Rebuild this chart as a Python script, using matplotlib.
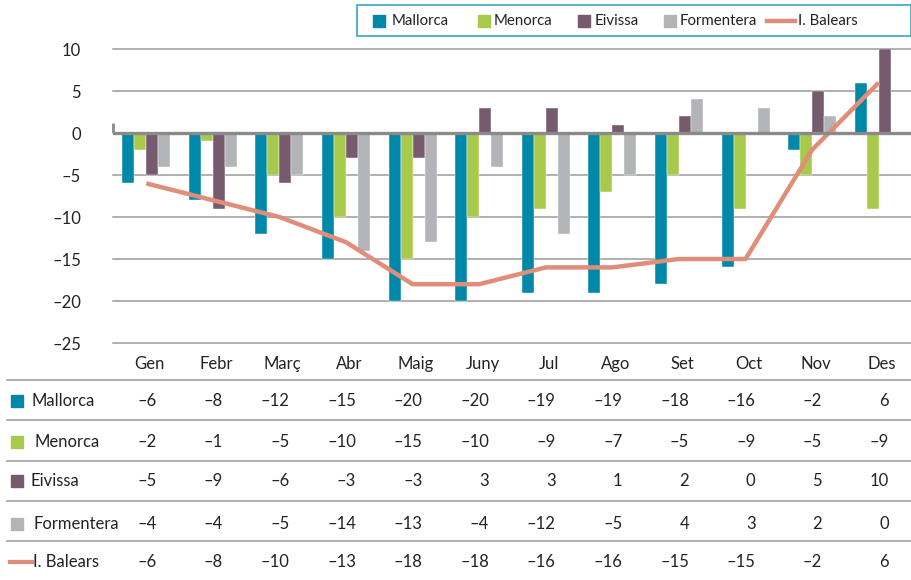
import matplotlib
matplotlib.use("Agg")
import matplotlib.pyplot as plt
import matplotlib.transforms as mtransforms
from matplotlib.patches import Rectangle
from matplotlib.lines import Line2D
import numpy as np

plt.rcParams['font.family'] = ['Lato', 'DejaVu Sans']

months = ["Gen", "Febr", "Març", "Abr", "Maig", "Juny", "Jul", "Ago", "Set", "Oct", "Nov", "Des"]
mallorca = [-6, -8, -12, -15, -20, -20, -19, -19, -18, -16, -2, 6]
menorca = [-2, -1, -5, -10, -15, -10, -9, -7, -5, -9, -5, -9]
eivissa = [-5, -9, -6, -3, -3, 3, 3, 1, 2, 0, 5, 10]
formentera = [-4, -4, -5, -14, -13, -4, -12, -5, 4, 3, 2, 0]
balears = [-6, -8, -10, -13, -18, -18, -16, -16, -15, -15, -2, 6]

series_names = ["Mallorca", "Menorca", "Eivissa", "Formentera"]
series_vals = [mallorca, menorca, eivissa, formentera]
colors = ["#0088A8", "#A8CA4C", "#765B6F", "#B3B4B7"]
line_color = "#E08D79"
line_name = "I. Balears"
yticks = [10, 5, 0, -5, -10, -15, -20, -25]

W, H = 912, 580
fig = plt.figure(figsize=(W / 100, H / 100), dpi=100)
ax_l, ax_r, ax_t, ax_b = 113, 912, 49, 343
ax = fig.add_axes([ax_l / W, 1 - ax_b / H, (ax_r - ax_l) / W, (ax_b - ax_t) / H])

n = len(months)
x = np.arange(n)
bw = 0.18
for i, (name, vals, c) in enumerate(zip(series_names, series_vals, colors)):
    ax.bar(x + (i - 1.5) * bw, vals, width=bw, color=c, zorder=3,
           edgecolor="white", linewidth=0.3)

ax.plot(x, balears, color=line_color, lw=3.2, zorder=4, solid_capstyle="butt")

ax.set_xlim(-0.5, n - 0.5)
ax.set_ylim(-25, 10)
ax.set_yticks(yticks)
ax.set_yticklabels([str(v).replace("-", "–") for v in yticks], fontsize=12, color="#222222")
ax.tick_params(axis="y", length=0, pad=23)
ax.set_xticks([])
for s in ax.spines.values():
    s.set_visible(False)
for v in yticks:
    if v != 0:
        ax.axhline(v, color="#9A9A9A", lw=1.1, zorder=1, clip_on=False)
ax.axhline(0, color="#8A8A8A", lw=2.4, zorder=5)
ax.plot([-0.5, -0.5], [0, 1.2], color="#8A8A8A", lw=2.0, zorder=5, clip_on=False,
        solid_capstyle="butt")

# Table
trans = mtransforms.blended_transform_factory(ax.transData, fig.transFigure)
def fy(py):
    return 1 - py / H

for i, m in enumerate(months):
    ax.text(i + 0.05, fy(364), m, transform=trans, ha="center", va="center",
            fontsize=12, color="#222222")

row_y = [401, 442, 481, 524, 562]
line_y = [380, 420, 461, 501, 541]
for ly in line_y:
    fig.add_artist(Line2D([7 / W, 912 / W], [fy(ly), fy(ly)], color="#A0A0A0", lw=1.2))

all_rows = series_vals + [balears]
all_names = series_names + [line_name]
label_x = [32, 35, 31, 34, 33]
for r, (name, vals) in enumerate(zip(all_names, all_rows)):
    yy = fy(row_y[r])
    if r < 4:
        fig.add_artist(Rectangle((11 / W, yy - 6 / H), 12 / W, 12 / H,
                                 transform=fig.transFigure, color=colors[r]))
    else:
        fig.add_artist(Line2D([10 / W, 32 / W], [yy, yy], color=line_color, lw=3))
    fig.text(label_x[r] / W, yy, name, ha="left", va="center", fontsize=12, color="#222222")
    for i, v in enumerate(vals):
        ax.text(i + 0.15, yy, str(v).replace("-", "–"), transform=trans,
                ha="right", va="center", fontsize=12, color="#222222")

# Legend (drawn manually to match layout)
fig.add_artist(Rectangle((357 / W, fy(36)), (911 - 357) / W, 31 / H,
                         transform=fig.transFigure, facecolor="white",
                         edgecolor="#5DB3C8", lw=1.5))
ly_c = fy(21)
sq_x = [373, 478, 578, 664]
tx_x = [392, 494, 595, 680]
for r in range(4):
    fig.add_artist(Rectangle((sq_x[r] / W, ly_c - 6 / H), 12 / W, 12 / H,
                             transform=fig.transFigure, color=colors[r]))
    fig.text(tx_x[r] / W, ly_c, series_names[r], ha="left", va="center",
             fontsize=10.8, color="#222222")
fig.add_artist(Line2D([767 / W, 795 / W], [ly_c, ly_c], color=line_color, lw=3.2))
fig.text(798 / W, ly_c, line_name, ha="left", va="center", fontsize=10.8, color="#222222")

fig.savefig("out.png", dpi=100)
